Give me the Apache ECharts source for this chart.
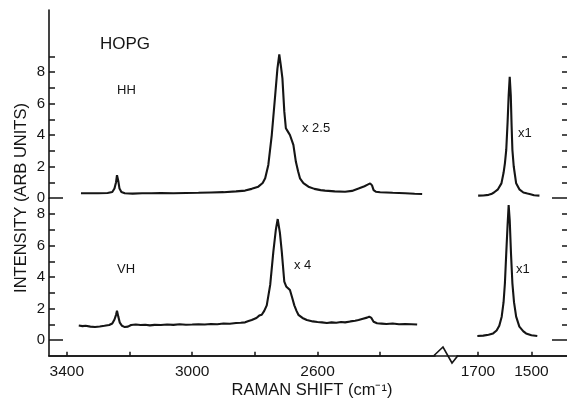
<!DOCTYPE html>
<html>
<head>
<meta charset="utf-8">
<script src="https://cdn.jsdelivr.net/npm/echarts@6/dist/echarts.min.js"></script>
<style>html,body{margin:0;padding:0;background:#fff;}#c{width:567px;height:400px;}</style>
</head>
<body>
<div id="c"></div>
<script>
// ---- data (Raman shift cm^-1, intensity arb. units) ----
const hhLeft = [[3355,0.3],[3330,0.3],[3300,0.3],[3270,0.32],[3255,0.38],[3248,0.6],[3243,1.0],[3240,1.45],[3236,1.1],[3232,0.6],[3226,0.38],[3215,0.3],[3190,0.28],[3160,0.3],[3130,0.3],[3100,0.32],[3060,0.3],[3020,0.32],[2980,0.33],[2940,0.35],[2900,0.37],[2860,0.42],[2831,0.47],[2810,0.58],[2789,0.72],[2775,0.95],[2767,1.25],[2757,2.1],[2746,4.0],[2735,6.54],[2728,8.2],[2722,9.12],[2717,8.4],[2712,7.6],[2706,5.5],[2701,4.43],[2694,4.2],[2688,4.0],[2677,3.37],[2669,2.3],[2662,1.7],[2656,1.25],[2645,0.95],[2629,0.72],[2610,0.58],[2590,0.5],[2576,0.47],[2545,0.42],[2512,0.4],[2490,0.45],[2469,0.6],[2450,0.75],[2440,0.85],[2432,0.93],[2426,0.8],[2421,0.5],[2414,0.4],[2400,0.37],[2360,0.33],[2320,0.3],[2290,0.27],[2266,0.25]];
const hhRight = [[1699,0.15],[1680,0.16],[1660,0.2],[1650,0.25],[1640,0.35],[1625,0.55],[1612,0.93],[1604,1.6],[1599,2.2],[1594,3.05],[1589,4.8],[1585,6.5],[1581,7.7],[1577,6.5],[1574,4.6],[1571,3.05],[1566,2.0],[1557,0.93],[1545,0.55],[1530,0.35],[1515,0.28],[1507,0.25],[1490,0.17],[1470,0.15]];
const vhLeft = [[3362,0.92],[3350,0.88],[3340,0.9],[3325,0.85],[3310,0.83],[3295,0.86],[3280,0.9],[3265,0.95],[3255,1.05],[3248,1.3],[3243,1.6],[3240,1.86],[3236,1.5],[3231,1.1],[3224,0.9],[3215,0.82],[3205,0.85],[3195,0.95],[3180,0.98],[3165,0.95],[3150,0.97],[3135,0.93],[3120,0.96],[3100,0.95],[3080,0.98],[3060,0.96],[3040,1.0],[3020,0.97],[3000,0.98],[2980,1.0],[2960,0.98],[2940,1.02],[2920,1.0],[2900,1.05],[2880,1.03],[2860,1.08],[2845,1.1],[2831,1.12],[2820,1.2],[2810,1.27],[2795,1.4],[2786,1.55],[2778,1.6],[2770,1.85],[2762,2.2],[2751,3.5],[2741,5.6],[2733,7.0],[2727,7.68],[2720,6.8],[2714,5.6],[2706,3.7],[2700,3.4],[2694,3.3],[2688,3.17],[2681,2.7],[2674,2.2],[2667,1.85],[2661,1.6],[2648,1.4],[2634,1.27],[2615,1.18],[2600,1.14],[2586,1.12],[2570,1.08],[2555,1.12],[2540,1.1],[2525,1.14],[2512,1.12],[2495,1.18],[2480,1.22],[2469,1.27],[2455,1.35],[2442,1.42],[2435,1.48],[2428,1.4],[2421,1.16],[2410,1.06],[2395,1.04],[2380,1.02],[2360,1.05],[2340,1.0],[2320,1.02],[2300,1.0],[2282,0.98]];
const vhRight = [[1702,0.25],[1680,0.28],[1660,0.33],[1643,0.42],[1630,0.6],[1620,0.9],[1611,1.48],[1604,2.4],[1599,3.6],[1594,5.5],[1589,7.3],[1585,8.57],[1581,7.6],[1576,5.4],[1571,3.6],[1565,2.4],[1557,1.48],[1545,0.85],[1530,0.55],[1520,0.42],[1500,0.3],[1478,0.25]];

const xTicksLeft = [3400,3200,3000,2800,2600,2400];
const xLabelsLeft = [3400,3000,2600];
const xTicksRight = [1700,1500];
const xLabelsRight = [1700,1500];
const yTicksHH = [1,2,3,4,5,6,7,8,9];
const yTicksVH = [1,2,3,4,5,6,7,8];
const yLabels = [0,2,4,6,8];
const zeroTick = [0];

const panelLabels = ['HOPG','HH','VH','x 2.5','x 4','x1','x1'];
const yTitle = 'INTENSITY (ARB UNITS)';
const xTitle = 'RAMAN SHIFT (cm\u207B\u00B9)';

// ---- chart ----
const FONT = 'Liberation Sans, Arial, sans-serif';
const INK = '#151515';
const chart = echarts.init(document.getElementById('c'), null, {renderer:'canvas'});

const leftRange = {min:2225, max:3457};
const rightRange = {min:1367, max:1778};
const hhY = {min:0, max:11.94};
const vhY = {min:-1, max:9};
const plain = v => String(v);

function xAx(grid, range, show, ticks, labels){
  return {type:'value', gridIndex:grid, inverse:true, min:range.min, max:range.max,
    show:show, splitLine:{show:false},
    axisLine:{show:true, onZero:false, lineStyle:{color:INK, width:1.6}},
    axisTick:{show:true, inside:true, length:4, customValues:ticks, lineStyle:{color:INK,width:1.5}},
    axisLabel:{show:true, customValues:labels, formatter:plain, margin:8, color:INK, fontSize:15.5, fontFamily:FONT}};
}
function yAx(grid, r, pos, ticks, labels, len, lineShow){
  return {type:'value', gridIndex:grid, position:pos, min:r.min, max:r.max, offset:0,
    splitLine:{show:false},
    axisLine:{show:lineShow, onZero:false, lineStyle:{color:INK, width:1.6}},
    axisTick:{show:true, inside:true, length:len, customValues:ticks, lineStyle:{color:INK,width:1.5}},
    axisLabel:{show:labels!==null, customValues:labels||[], formatter:plain, margin:4, color:INK, fontSize:15, fontFamily:FONT}};
}

const grids = [
  {left:49, top:10, width:519, height:346},          // frame (top line)
  {left:49, top:10, width:386, height:188},          // HH left
  {left:457, top:10, width:111, height:188},         // HH right
  {left:49, top:198.25, width:386, height:157.5},    // VH left
  {left:457, top:198.25, width:111, height:157.5}    // VH right
];

const xAxes = [
  {type:'value', gridIndex:0, position:'top', min:0, max:1, splitLine:{show:false},
   axisLine:{show:true, lineStyle:{color:INK,width:1.6}}, axisTick:{show:false}, axisLabel:{show:false}},
  xAx(1, leftRange, false, [], []),
  xAx(2, rightRange, false, [], []),
  xAx(3, leftRange, true, xTicksLeft, xLabelsLeft),
  xAx(4, rightRange, true, xTicksRight, xLabelsRight)
];
const yAxes = [
  {type:'value', gridIndex:0, show:false, min:0, max:1},
  yAx(1, hhY, 'left', yTicksHH, yLabels, 6, true),
  yAx(1, hhY, 'left', zeroTick, null, 14, false),
  yAx(2, hhY, 'right', yTicksHH, null, 5, false),
  yAx(2, hhY, 'right', zeroTick, null, 15, false),
  yAx(3, vhY, 'left', yTicksVH, yLabels, 6, true),
  yAx(3, vhY, 'left', zeroTick, null, 14, false),
  yAx(4, vhY, 'right', yTicksVH, null, 5, false),
  yAx(4, vhY, 'right', zeroTick, null, 15, false)
];

function line(data, xi, yi){
  return {type:'line', data:data, xAxisIndex:xi, yAxisIndex:yi, showSymbol:false, symbol:'none',
    smooth:false, lineStyle:{color:INK, width:2.1}, silent:true};
}

function txt(t, x, y, size){
  return {type:'text', x:x, y:y, style:{text:t, fill:INK, font: size+'px '+FONT, textAlign:'left', textVerticalAlign:'middle'}};
}

const option = {
  animation:false,
  backgroundColor:'#fff',
  grid:grids,
  xAxis:xAxes,
  yAxis:yAxes,
  series:[
    line(hhLeft,1,1), line(hhRight,2,3), line(vhLeft,3,5), line(vhRight,4,7)
  ],
  graphic:[
    txt(panelLabels[0], 100, 44, 17),
    txt(panelLabels[1], 117, 90, 13),
    txt(panelLabels[2], 117, 269, 13),
    txt(panelLabels[3], 302, 128, 13),
    txt(panelLabels[4], 294, 265, 13),
    txt(panelLabels[5], 518, 133, 13),
    txt(panelLabels[6], 516, 269, 13),
    {type:'text', x:21, y:198, rotation:Math.PI/2,
      style:{text:yTitle, fill:INK, font:'16.5px '+FONT, textAlign:'center', textVerticalAlign:'middle'}},
    {type:'text', x:312, y:390,
      style:{text:xTitle, fill:INK, font:'16.5px '+FONT, textAlign:'center', textVerticalAlign:'middle'}},
    {type:'rect', shape:{x:436, y:352, width:20, height:8}, style:{fill:'#fff'}},
    {type:'polyline', shape:{points:[[434,355.5],[443,347],[452,363],[458,355.5]]},
      style:{stroke:INK, lineWidth:1.6, fill:null}}
  ]
};
chart.setOption(option);
</script>
</body>
</html>
